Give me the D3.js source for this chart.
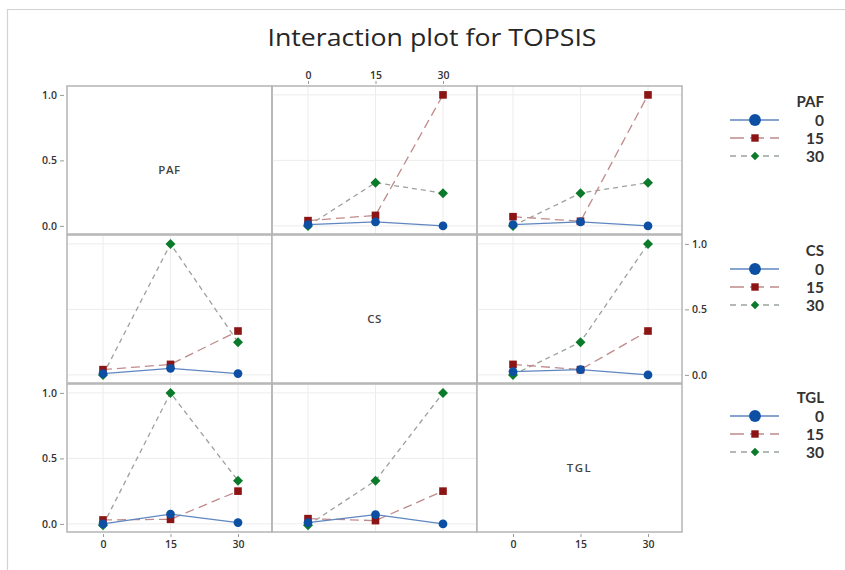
<!DOCTYPE html>
<html>
<head>
<meta charset="utf-8">
<script src="https://cdn.jsdelivr.net/npm/d3@7"></script>
<style>
  html, body { margin: 0; padding: 0; background: #fff; }
  svg { display: block; font-family: "Open Sans", "Noto Sans", sans-serif; }
</style>
</head>
<body>
<svg id="chart" width="845" height="570"></svg>
<script>
// Factors and their levels
const factors = ["PAF", "CS", "TGL"];
const levels = [0, 15, 30];
const levelLabels = ["0", "15", "30"];
const yTicks = [0.0, 0.5, 1.0];

// Mean TOPSIS per line level (rows: 0, 15, 30), along the x factor levels
const pafOverCS  = [[0.01, 0.03, 0.00], [0.04, 0.08, 1.00], [0.00, 0.33, 0.25]];
const pafOverTGL = [[0.01, 0.03, 0.00], [0.07, 0.035, 1.00], [0.00, 0.25, 0.33]];
const csOverPAF  = [[0.01, 0.05, 0.01], [0.04, 0.08, 0.335], [0.00, 1.00, 0.25]];
const csOverTGL  = [[0.025, 0.04, 0.00], [0.08, 0.04, 0.335], [0.00, 0.25, 1.00]];
const tglOverPAF = [[0.00, 0.075, 0.01], [0.03, 0.035, 0.25], [-0.01, 1.00, 0.33]];
const tglOverCS  = [[0.01, 0.07, 0.00], [0.04, 0.025, 0.25], [-0.01, 0.33, 1.00]];

// row = line factor, col = x factor
const panelData = {
  "0-1": pafOverCS, "0-2": pafOverTGL,
  "1-0": csOverPAF, "1-2": csOverTGL,
  "2-0": tglOverPAF, "2-1": tglOverCS
};

const seriesStyle = [
  { line: "#5f86c0", dash: null,  fill: "#0d4fa3" },
  { line: "#c08a8a", dash: "9,5", fill: "#8c1414" },
  { line: "#9aa29a", dash: "5,4", fill: "#0b7a2a" }
];

// marker path for each series: circle, square, diamond (square turned 45°)
function markerPath(s, big) {
  if (s === 0) return d3.symbol().type(d3.symbolCircle).size(big ? 110 : 60)();
  if (s === 1) return d3.symbol().type(d3.symbolSquare).size(big ? 55 : 58)();
  return d3.symbol().type(d3.symbolSquare).size(big ? 36 : 50)();
}
function markerRotate(s) { return s === 2 ? " rotate(45)" : ""; }

const svg = d3.select("#chart");

// outer frame
svg.append("path")
  .attr("d", "M7.5,570 L7.5,9.5 L845,9.5")
  .attr("fill", "none").attr("stroke", "#d2d2d2").attr("stroke-width", 1.2);

// title
svg.append("text")
  .attr("x", 432).attr("y", 46)
  .attr("text-anchor", "middle")
  .attr("font-size", 24).attr("font-weight", 500)
  .attr("fill", "#262626")
  .attr("textLength", 329).attr("lengthAdjust", "spacingAndGlyphs")
  .text("Interaction plot for TOPSIS");

const colLeft = [67, 272, 477];
const rowTop = [86, 235, 384];
const pw = 205, ph = 148;

function xScale(c) {
  return d3.scalePoint().domain(levels).range([colLeft[c] + 36, colLeft[c] + 171]);
}
function yScale(r) {
  return d3.scaleLinear().domain([-0.062, 1.068]).range([rowTop[r] + ph, rowTop[r]]);
}

for (let r = 0; r < 3; r++) {
  for (let c = 0; c < 3; c++) {
    const g = svg.append("g");
    const x = xScale(c), y = yScale(r);
    if (r === c) {
      g.append("rect")
        .attr("x", colLeft[c]).attr("y", rowTop[r]).attr("width", pw).attr("height", ph)
        .attr("fill", "#fff").attr("stroke", "#b4b4b4").attr("stroke-width", 1.5);
      g.append("text")
        .attr("x", colLeft[c] + pw / 2).attr("y", rowTop[r] + ph / 2 + 14)
        .attr("text-anchor", "middle")
        .attr("font-size", 11.5).attr("font-weight", 600)
        .attr("letter-spacing", factors[r] === "TGL" ? 1.5 : 0.5)
        .attr("fill", "#444")
        .text(factors[r]);
      continue;
    }
    // grid
    g.selectAll(".gx").data(levels).join("line")
      .attr("x1", d => x(d)).attr("x2", d => x(d))
      .attr("y1", rowTop[r]).attr("y2", rowTop[r] + ph)
      .attr("stroke", "#ececec").attr("stroke-width", 1);
    g.selectAll(".gy").data(yTicks).join("line")
      .attr("x1", colLeft[c]).attr("x2", colLeft[c] + pw)
      .attr("y1", d => y(d)).attr("y2", d => y(d))
      .attr("stroke", "#ececec").attr("stroke-width", 1);
    g.append("rect")
      .attr("x", colLeft[c]).attr("y", rowTop[r]).attr("width", pw).attr("height", ph)
      .attr("fill", "none").attr("stroke", "#b4b4b4").attr("stroke-width", 1.5);

    const data = panelData[r + "-" + c];
    const line = d3.line().x((d, i) => x(levels[i])).y(d => y(d));
    // green, red, then blue on top
    [2, 1, 0].forEach(s => {
      const st = seriesStyle[s];
      g.append("path")
        .attr("d", line(data[s]))
        .attr("fill", "none")
        .attr("stroke", st.line)
        .attr("stroke-width", 1.3)
        .attr("stroke-dasharray", st.dash);
    });
    [2, 1, 0].forEach(s => {
      const st = seriesStyle[s];
      g.selectAll(null).data(data[s]).join("path")
        .attr("transform", (d, i) => `translate(${x(levels[i])},${y(d)})` + markerRotate(s))
        .attr("d", markerPath(s, false))
        .attr("fill", st.fill);
    });
  }
}

// Axes
const tickFmt = d3.format(".1f");
function styleAxis(sel) {
  sel.select(".domain").remove();
  sel.selectAll(".tick line").attr("stroke", "#999");
  sel.selectAll(".tick text")
    .attr("font-size", 10.5).attr("font-weight", 600).attr("fill", "#333")
    .attr("font-family", "\"Open Sans\", sans-serif");
}

// left axes on rows 1 and 3
[0, 2].forEach(r => {
  svg.append("g")
    .attr("transform", `translate(${colLeft[0] - 3},0)`)
    .call(d3.axisLeft(yScale(r)).tickValues(yTicks).tickFormat(tickFmt).tickSize(4).tickPadding(3))
    .call(styleAxis);
});
// right axis on row 2
svg.append("g")
  .attr("transform", `translate(${colLeft[2] + pw + 3},0)`)
  .call(d3.axisRight(yScale(1)).tickValues(yTicks).tickFormat(tickFmt).tickSize(4).tickPadding(3))
  .call(styleAxis);
// top axis on column 2
svg.append("g")
  .attr("transform", `translate(0,${rowTop[0] - 2})`)
  .call(d3.axisTop(xScale(1)).tickFormat((d, i) => levelLabels[i]).tickSize(3).tickPadding(2))
  .call(styleAxis);
// bottom axes on columns 1 and 3
[0, 2].forEach(c => {
  svg.append("g")
    .attr("transform", `translate(0,${rowTop[2] + ph + 2})`)
    .call(d3.axisBottom(xScale(c)).tickFormat((d, i) => levelLabels[i]).tickSize(3).tickPadding(4))
    .call(styleAxis);
});

// Legends
const legendTitleY = [102, 251, 398];
const legendStepY = 18;
factors.forEach((f, r) => {
  const lg = svg.append("g");
  lg.append("text")
    .attr("x", 824).attr("y", legendTitleY[r] + 5)
    .attr("text-anchor", "end")
    .attr("font-family", "Lato, sans-serif")
    .attr("font-size", 15).attr("font-weight", 700).attr("fill", "#333")
    .text(f);
  levelLabels.forEach((lab, s) => {
    const yy = legendTitleY[r] + legendStepY * (s + 1);
    const st = seriesStyle[s];
    lg.append("line")
      .attr("x1", 730).attr("x2", 779).attr("y1", yy).attr("y2", yy)
      .attr("stroke", st.line).attr("stroke-width", 1.4)
      .attr("stroke-dasharray", s === 1 ? "14,6" : (s === 2 ? "6,5" : null));
    lg.append("path")
      .attr("transform", `translate(755,${yy})` + markerRotate(s))
      .attr("d", markerPath(s, true))
      .attr("fill", st.fill);
    lg.append("text")
      .attr("x", 824).attr("y", yy + 5.5)
      .attr("text-anchor", "end")
      .attr("font-family", "Lato, sans-serif")
      .attr("font-size", 15.5).attr("font-weight", 700).attr("fill", "#333")
      .text(lab);
  });
});
</script>
</body>
</html>
